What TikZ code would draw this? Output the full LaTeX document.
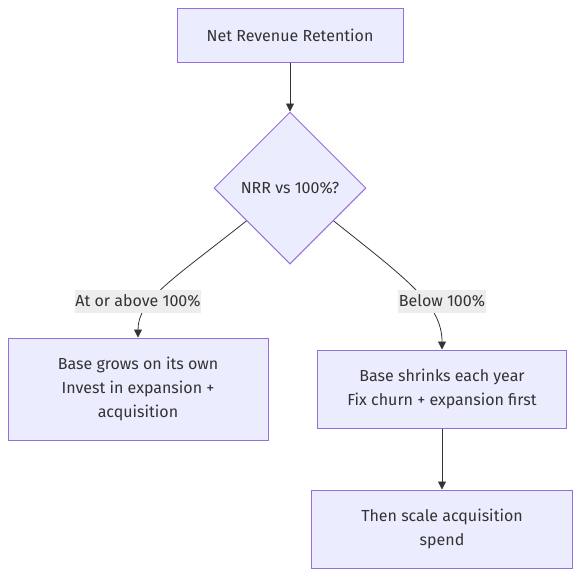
\documentclass[tikz,border=0pt]{standalone}
\usepackage{fontspec}
\setmainfont{Fira Sans}
\usetikzlibrary{shapes.geometric,arrows.meta,calc}
\definecolor{nodefill}{HTML}{ECECFF}
\definecolor{nodeline}{HTML}{9370DB}
\definecolor{txt}{HTML}{333333}
\definecolor{edge}{HTML}{333333}
\definecolor{lblfill}{HTML}{EDEDED}
\tikzset{
  box/.style={draw=nodeline, fill=nodefill, line width=0.75pt, text=txt, align=center,
    font=\fontsize{12}{18}\selectfont, inner sep=0pt},
  decision/.style={diamond, aspect=1, draw=nodeline, fill=nodefill, line width=0.75pt,
    text=txt, font=\fontsize{12}{18}\selectfont, inner sep=0pt, minimum width=114pt, minimum height=114pt},
  lbl/.style={fill=lblfill, text=txt, font=\fontsize{12}{18}\selectfont, inner sep=0pt,
    minimum height=17.25pt, inner xsep=0.5pt},
  conn/.style={draw=edge, line width=0.6pt, -{Triangle[length=6pt,width=6pt]}},
}
\begin{document}
\begin{tikzpicture}[x=0.75pt,y=-0.75pt]
\useasboundingbox (0,0) rectangle (581,576);
\node[box, minimum width=169.5pt, minimum height=40.5pt] (t) at (290,35) {Net Revenue Retention};
\node[decision] (d) at (290,188) {NRR vs 100\%?};
\node[box, minimum width=195pt, minimum height=76.5pt] (l) at (138,389) {Base grows on its own\\Invest in expansion +\\acquisition};
\node[box, minimum width=186.75pt, minimum height=58.5pt] (r) at (442,389) {Base shrinks each year\\Fix churn + expansion first};
\node[box, minimum width=195.75pt, minimum height=58.5pt] (b) at (442,529) {Then scale acquisition\\spend};
\coordinate (ds) at ($(d.west)!0.43!(d.south)$);
\coordinate (de) at ($(d.east)!0.43!(d.south)$);
\draw[conn] (t.south) -- (d.north);
\draw[conn] (ds) .. controls (172,280) and (138,300) .. (l.north);
\draw[conn] (de) .. controls (408,280) and (442,305) .. (r.north);
\draw[conn] (r.south) -- (b.north);
\node[lbl] (la) at (138,301) {At or above 100\%};
\node[lbl] (lb) at (442,301) {Below 100\%};
\end{tikzpicture}
\end{document}
